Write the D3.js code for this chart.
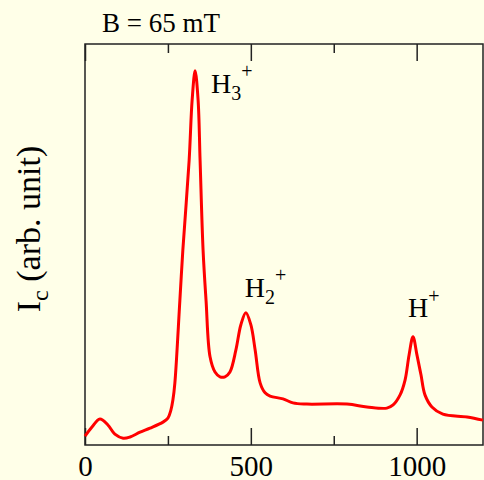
<!DOCTYPE html>
<html>
<head>
<meta charset="utf-8">
<script src="https://cdn.jsdelivr.net/npm/d3@7"></script>
<style>
  html, body { margin: 0; padding: 0; background: #FFFFE8; }
  svg { display: block; font-family: "Liberation Serif", "DejaVu Serif", serif; }
</style>
</head>
<body>
<div id="chart"></div>
<script>
// Ion current vs. mass-ish axis, B = 65 mT
// curve
const xVals = [0, 21, 45, 69, 90, 115, 136, 166, 196, 235, 250, 259, 265, 271, 286, 295, 314, 323, 332, 341, 347, 356, 365, 377, 392, 407, 422, 437, 455, 470, 485, 500, 513, 528, 543, 558, 597, 627, 669, 790, 850, 910, 929, 950, 965, 977, 989, 1001, 1013, 1025, 1046, 1079, 1152, 1200];
const yVals = [2.2, 4.5, 6.5, 5, 2.7, 1.7, 2.0, 3.2, 4.2, 5.7, 6.7, 8.7, 11.2, 15.5, 36, 48.6, 71, 86, 93.3, 86, 71, 48.6, 36, 22, 18.2, 17, 17, 18.2, 23.7, 30, 33, 30, 23.7, 15.5, 13, 12.2, 11.5, 10.5, 10.2, 10.2, 9.5, 9.2, 10, 12.5, 16.2, 22.4, 27, 22.4, 17.5, 12.5, 9.5, 7.7, 7, 6.2];

const majorTicks = [0, 500, 1000];
const minorTicks = [250, 750];

// peak labels: base, subscript, data position of the label
const peakNames = ["H", "H", "H"];
const peakSubs = ["3", "2", ""];
const peakX = [380, 482, 974];
const peakY = [87.8, 36.9, 31.9];

const titleText = "B = 65 mT";
const yLabel = "I";
const yLabelSub = "c";
const yLabelRest = " (arb. unit)";

const width = 484, height = 480;
const margin = {top: 44, right: 1, bottom: 35, left: 85};
const plotW = width - margin.left - margin.right;
const plotH = height - margin.top - margin.bottom;

const svg = d3.select("#chart").append("svg")
    .attr("width", width)
    .attr("height", height);

svg.append("rect")
    .attr("width", width).attr("height", height)
    .attr("fill", "#FFFFE8");

const g = svg.append("g")
    .attr("transform", `translate(${margin.left},${margin.top})`);

const x = d3.scaleLinear().domain([0, 1200]).range([0, plotW]);
const y = d3.scaleLinear().domain([0, 100]).range([plotH, 0]);

// frame
g.append("rect")
    .attr("width", plotW).attr("height", plotH)
    .attr("fill", "none")
    .attr("stroke", "#222")
    .attr("stroke-width", 1.5);

// bottom axis, ticks point inward
const bottomMajor = g.append("g")
    .attr("transform", `translate(0,${plotH})`)
    .call(d3.axisBottom(x).tickValues(majorTicks).tickSize(-17).tickPadding(10).tickFormat(d3.format("d")));
const bottomMinor = g.append("g")
    .attr("transform", `translate(0,${plotH})`)
    .call(d3.axisBottom(x).tickValues(minorTicks).tickSize(-9).tickFormat(""));

// top axis, same ticks without labels
const topMajor = g.append("g")
    .call(d3.axisTop(x).tickValues(majorTicks).tickSize(-17).tickFormat(""));
const topMinor = g.append("g")
    .call(d3.axisTop(x).tickValues(minorTicks).tickSize(-9).tickFormat(""));

[bottomMajor, bottomMinor, topMajor, topMinor].forEach(ax => {
    ax.select(".domain").remove();
    ax.selectAll(".tick line").attr("stroke", "#222").attr("stroke-width", 1.5);
    ax.selectAll(".tick text")
        .attr("fill", "#000")
        .style("font-family", "'Liberation Serif', serif")
        .style("font-size", "29px");
});

// the curve
const pts = xVals.map((v, i) => [v, yVals[i]]);
const line = d3.line()
    .x(d => x(d[0]))
    .y(d => y(d[1]))
    .curve(d3.curveCatmullRom.alpha(0.5));

g.append("path")
    .datum(pts)
    .attr("d", line)
    .attr("fill", "none")
    .attr("stroke", "#FF0000")
    .attr("stroke-width", 3)
    .attr("stroke-linejoin", "round");

// peak labels
peakNames.forEach((name, i) => {
    const t = g.append("text")
        .attr("x", x(peakX[i]))
        .attr("y", y(peakY[i]))
        .attr("fill", "#000")
        .style("font-size", "28px");
    t.append("tspan").text(name);
    if (peakSubs[i]) {
        t.append("tspan").attr("dy", 7).style("font-size", "20px").text(peakSubs[i]);
        t.append("tspan").attr("dy", -22).style("font-size", "20px").text("+");
    } else {
        t.append("tspan").attr("dy", -14).style("font-size", "20px").text("+");
    }
});

// title
svg.append("text")
    .attr("x", 161)
    .attr("y", 32)
    .attr("text-anchor", "middle")
    .attr("fill", "#000")
    .style("font-size", "27px")
    .text(titleText);

// y label
const yl = svg.append("text")
    .attr("transform", `translate(40,229) rotate(-90)`)
    .attr("text-anchor", "middle")
    .attr("fill", "#000")
    .style("font-size", "34px");
yl.append("tspan").text(yLabel);
yl.append("tspan").attr("dy", 8).style("font-size", "24px").text(yLabelSub);
yl.append("tspan").attr("dy", -8).text(yLabelRest);
</script>
</body>
</html>
